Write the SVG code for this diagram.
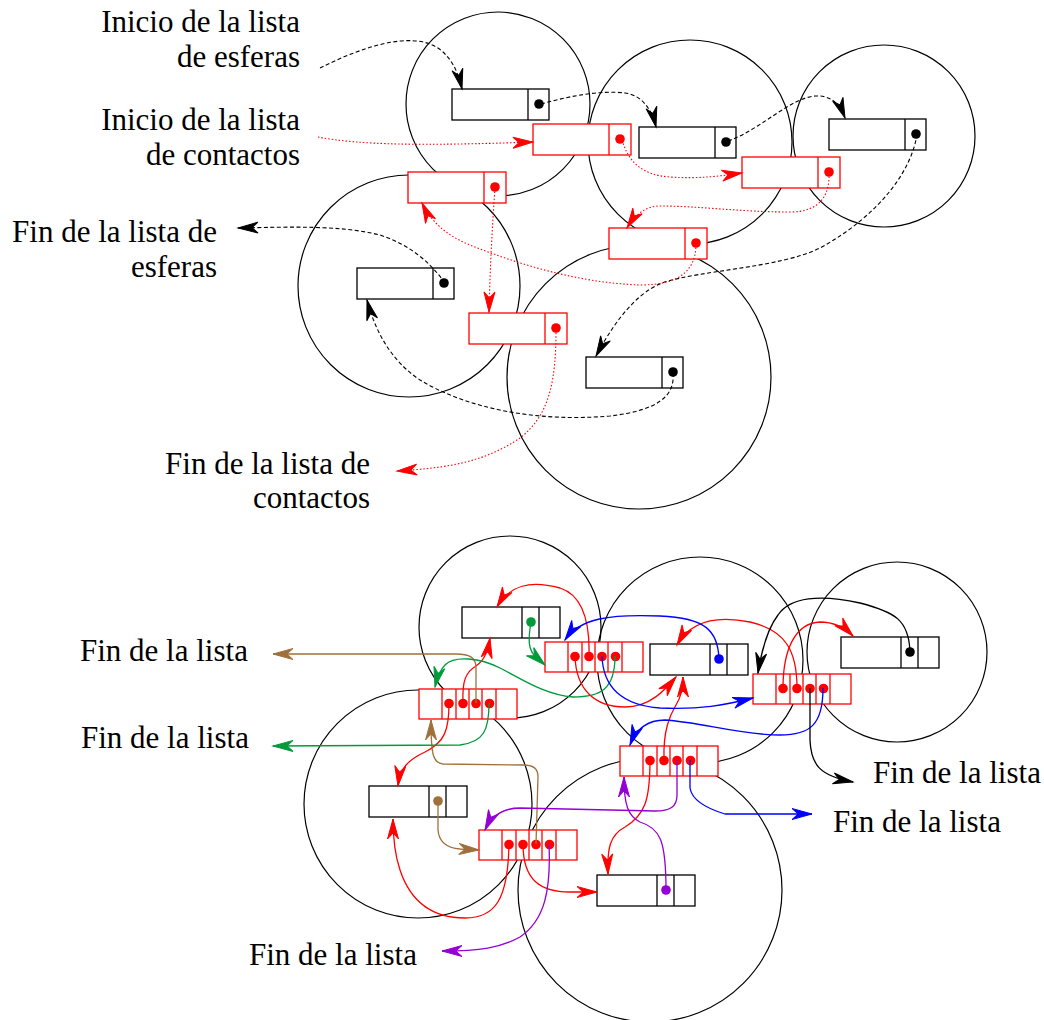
<svg xmlns="http://www.w3.org/2000/svg" xmlns:xlink="http://www.w3.org/1999/xlink" width="1044" height="1020" viewBox="0 0 1044 1020">
<style>
.circ{fill:none;stroke:#000;stroke-width:1.2}
.kb{fill:#fff;stroke:#000;stroke-width:1.3}
.rb{fill:#fff;stroke:#f00;stroke-width:1.3}
.c{fill:none;stroke-width:1.3}
.dk{fill:none;stroke:#000;stroke-width:1.1;stroke-dasharray:4 2.5}
.dr{fill:none;stroke:#f00;stroke-width:1.1;stroke-dasharray:1.5 2}
.lbl{font-family:"Liberation Serif","Times New Roman",serif;font-size:31px;fill:#000}
.ah{stroke-width:1;stroke-linejoin:miter}
</style>
<defs>
<marker id="ak" markerUnits="userSpaceOnUse" markerWidth="24" markerHeight="14" refX="20" refY="5.5" orient="auto" overflow="visible"><path class="ah" d="M0,0 L20,5.5 L0,11 L6,5.5 z" fill="#000" stroke="#000"/></marker>
<marker id="ar" markerUnits="userSpaceOnUse" markerWidth="24" markerHeight="14" refX="20" refY="5.5" orient="auto" overflow="visible"><path class="ah" d="M0,0 L20,5.5 L0,11 L6,5.5 z" fill="#f00" stroke="#f00"/></marker>
<marker id="ag" markerUnits="userSpaceOnUse" markerWidth="24" markerHeight="14" refX="20" refY="5.5" orient="auto" overflow="visible"><path class="ah" d="M0,0 L20,5.5 L0,11 L6,5.5 z" fill="#009a3a" stroke="#009a3a"/></marker>
<marker id="ab" markerUnits="userSpaceOnUse" markerWidth="24" markerHeight="14" refX="20" refY="5.5" orient="auto" overflow="visible"><path class="ah" d="M0,0 L20,5.5 L0,11 L6,5.5 z" fill="#00f" stroke="#00f"/></marker>
<marker id="an" markerUnits="userSpaceOnUse" markerWidth="24" markerHeight="14" refX="20" refY="5.5" orient="auto" overflow="visible"><path class="ah" d="M0,0 L20,5.5 L0,11 L6,5.5 z" fill="#a0703c" stroke="#a0703c"/></marker>
<marker id="ap" markerUnits="userSpaceOnUse" markerWidth="24" markerHeight="14" refX="20" refY="5.5" orient="auto" overflow="visible"><path class="ah" d="M0,0 L20,5.5 L0,11 L6,5.5 z" fill="#9400d3" stroke="#9400d3"/></marker>
<g id="tk"><rect class="kb" x="0" y="0" width="97" height="31"/><line class="kb" x1="76" y1="0" x2="76" y2="31"/><circle cx="87" cy="15" r="4.8" fill="#000"/></g>
<g id="tr"><rect class="rb" x="0" y="0" width="98" height="31"/><line class="rb" x1="76" y1="0" x2="76" y2="31"/><circle cx="87" cy="15" r="4.8" fill="#f00"/></g>
<g id="bk"><rect class="kb" x="0" y="0" width="98" height="31"/><line class="kb" x1="60" y1="0" x2="60" y2="31"/><line class="kb" x1="77" y1="0" x2="77" y2="31"/></g>
<g id="br"><rect class="rb" x="0" y="0" width="98" height="30"/><line class="rb" x1="23" y1="0" x2="23" y2="30"/><line class="rb" x1="37" y1="0" x2="37" y2="30"/><line class="rb" x1="50" y1="0" x2="50" y2="30"/><line class="rb" x1="63" y1="0" x2="63" y2="30"/><line class="rb" x1="77" y1="0" x2="77" y2="30"/><circle cx="30" cy="14.5" r="4.8" fill="#f00"/><circle cx="44" cy="14.5" r="4.8" fill="#f00"/><circle cx="57" cy="14.5" r="4.8" fill="#f00"/><circle cx="70.5" cy="14.5" r="4.8" fill="#f00"/></g>
</defs>
<rect width="1044" height="1020" fill="#fff"/>
<g id="spheres">
<circle class="circ" cx="498" cy="104" r="92"/>
<circle class="circ" cx="690" cy="142" r="102"/>
<circle class="circ" cx="884" cy="136" r="91"/>
<circle class="circ" cx="409" cy="286" r="111"/>
<circle class="circ" cx="639" cy="377" r="132"/>
<circle class="circ" cx="510" cy="627" r="91"/>
<circle class="circ" cx="700" cy="660" r="103"/>
<circle class="circ" cx="897" cy="652" r="90"/>
<circle class="circ" cx="418" cy="804" r="114"/>
<circle class="circ" cx="650" cy="890" r="132"/>
</g>
<g id="B1"><use xlink:href="#tk" x="452" y="89"/></g>
<g id="B2"><use xlink:href="#tk" x="639" y="127"/></g>
<g id="B3"><use xlink:href="#tk" x="829" y="119"/></g>
<g id="B4"><use xlink:href="#tk" x="357" y="268"/></g>
<g id="B5"><use xlink:href="#tk" x="586" y="357"/></g>
<g id="R1"><use xlink:href="#tr" x="533" y="124"/></g>
<g id="R2"><use xlink:href="#tr" x="408" y="172"/></g>
<g id="R3"><use xlink:href="#tr" x="742" y="157"/></g>
<g id="R4"><use xlink:href="#tr" x="609" y="228"/></g>
<g id="R5"><use xlink:href="#tr" x="469" y="313"/></g>
<g id="BB1"><use xlink:href="#bk" x="462" y="607"/><circle cx="531" cy="622" r="4.8" fill="#009a3a"/></g>
<g id="BB2"><use xlink:href="#bk" x="650" y="644"/><circle cx="719" cy="659" r="4.8" fill="#00f"/></g>
<g id="BB3"><use xlink:href="#bk" x="841" y="637"/><circle cx="910" cy="652" r="4.8" fill="#000"/></g>
<g id="BB4"><use xlink:href="#bk" x="369" y="786"/><circle cx="438" cy="801" r="4.8" fill="#a0703c"/></g>
<g id="BB5"><use xlink:href="#bk" x="597" y="875"/><circle cx="666" cy="890" r="4.8" fill="#9400d3"/></g>
<g id="BR1"><use xlink:href="#br" x="419" y="689"/></g>
<g id="BR2"><use xlink:href="#br" x="545" y="642"/></g>
<g id="BR3"><use xlink:href="#br" x="753" y="674"/></g>
<g id="BR4"><use xlink:href="#br" x="620" y="746"/></g>
<g id="BR5"><use xlink:href="#br" x="479" y="830"/></g>
<g id="connectors">
<path class="dk" marker-end="url(#ak)" d="M320,68 C360,48 410,30 438,48 C452,58 458,72 462,89"/>
<path class="dk" marker-end="url(#ak)" d="M541,104 C570,96 600,90 625,93 C642,95 652,110 656,127"/>
<path class="dk" marker-end="url(#ak)" d="M728,141 C760,130 790,98 815,96 C832,95 840,105 845,118"/>
<path class="dk" marker-end="url(#ak)" d="M917,134 C912,170 880,215 820,248 C780,268 700,270 662,283 C632,295 610,330 596,356"/>
<path class="dk" marker-end="url(#ak)" d="M673,373 C675,395 660,410 610,416 C540,422 470,410 420,380 C390,360 375,330 367,300"/>
<path class="dk" marker-end="url(#ak)" d="M445,283 C430,262 410,245 380,235 C340,225 290,227 238,228"/>
<path class="dr" marker-end="url(#ar)" d="M318,137 C360,145 420,146 533,142"/>
<path class="dr" marker-end="url(#ar)" d="M622,140 C628,160 640,175 670,177 C700,179 720,176 742,173"/>
<path class="dr" marker-end="url(#ar)" d="M829,173 C830,195 820,212 790,212 C740,212 700,206 660,206 C645,206 635,215 627,228"/>
<path class="dr" marker-end="url(#ar)" d="M696,244 C696,270 680,285 640,285 C580,283 520,265 470,245 C445,235 430,220 422,203"/>
<path class="dr" marker-end="url(#ar)" d="M495,188 C492,230 490,270 489,312"/>
<path class="dr" marker-end="url(#ar)" d="M556,329 C556,380 550,415 520,438 C480,465 440,468 397,471"/>
<path class="c" stroke="#f00" marker-end="url(#ar)" d="M449,703 C449,730 445,742 425,752 C408,760 400,768 398,786"/>
<path class="c" stroke="#f00" marker-end="url(#ar)" d="M463,703 C462,680 466,672 476,666 C485,660 488,650 490,638"/>
<path class="c" stroke="#f00" marker-end="url(#ar)" d="M575,656 C576,690 595,707 625,707 C650,707 665,690 676,677"/>
<path class="c" stroke="#f00" marker-end="url(#ar)" d="M589,656 C590,620 582,595 560,588 C530,580 510,585 497,607"/>
<path class="c" stroke="#f00" marker-end="url(#ar)" d="M783,688 C783,650 795,623 820,622 C835,622 845,628 853,636"/>
<path class="c" stroke="#f00" marker-end="url(#ar)" d="M797,688 C797,650 785,630 750,622 C715,615 690,622 677,645"/>
<path class="c" stroke="#f00" marker-end="url(#ar)" d="M650,760 C650,800 645,815 625,827 C610,835 607,848 608,874"/>
<path class="c" stroke="#f00" marker-end="url(#ar)" d="M664,760 C663,730 670,715 676,705 C681,697 683,690 683,677"/>
<path class="c" stroke="#f00" marker-end="url(#ar)" d="M509,844 C508,900 495,918 465,918 C430,918 410,900 400,870 C395,855 393,840 393,819"/>
<path class="c" stroke="#f00" marker-end="url(#ar)" d="M523,844 C523,880 540,892 570,892 L597,892"/>
<path class="c" stroke="#a0703c" marker-end="url(#an)" d="M476,703 L476,668 C476,657 469,654 456,654 L273,654"/>
<path class="c" stroke="#a0703c" marker-end="url(#an)" d="M536,844 L538,777 C538,768 533,765 523,765 L443,764 C433,763 431,755 431,720"/>
<path class="c" stroke="#a0703c" marker-end="url(#an)" d="M438,801 L438,830 C439,843 447,848 460,849 L479,850"/>
<path class="c" stroke="#009a3a" marker-end="url(#ag)" d="M489,703 C489,730 484,742 460,745 L273,746"/>
<path class="c" stroke="#009a3a" marker-end="url(#ag)" d="M615,656 C615,690 600,697 573,697 C545,695 520,678 500,668 C480,658 455,655 445,665 C440,670 437,678 435,687"/>
<path class="c" stroke="#009a3a" marker-end="url(#ag)" d="M531,622 C528,640 528,650 536,657 L545,665"/>
<path class="c" stroke="#00f" marker-end="url(#ab)" d="M602,656 C603,685 620,705 660,708 C700,710 725,705 753,698"/>
<path class="c" stroke="#00f" marker-end="url(#ab)" d="M719,659 C718,630 705,618 660,616 C610,614 580,618 565,640"/>
<path class="c" stroke="#00f" marker-end="url(#ab)" d="M823,688 C823,725 810,735 780,735 C740,735 700,722 665,720 C645,720 635,732 630,745"/>
<path class="c" stroke="#00f" marker-end="url(#ab)" d="M690,760 L690,788 C692,800 705,808 725,814 L812,814"/>
<path class="c" stroke="#000" marker-end="url(#ak)" d="M810,688 L810,740 C811,765 820,776 853,782"/>
<path class="c" stroke="#000" marker-end="url(#ak)" d="M910,652 C909,620 895,612 860,603 C820,594 790,597 778,615 C768,628 762,648 758,673"/>
<path class="c" stroke="#9400d3" marker-end="url(#ap)" d="M677,760 L677,795 C677,807 670,811 655,811 L520,808 C503,808 492,815 485,830"/>
<path class="c" stroke="#9400d3" marker-end="url(#ap)" d="M549,844 C551,890 545,920 520,937 C500,948 480,951 442,951"/>
<path class="c" stroke="#9400d3" marker-end="url(#ap)" d="M666,890 C666,840 660,828 640,822 C628,816 624,805 624,777"/>
</g>
<g id="labels">
<text class="lbl" x="300" y="32" text-anchor="end">Inicio de la lista</text>
<text class="lbl" x="300" y="67" text-anchor="end">de esferas</text>
<text class="lbl" x="300" y="130" text-anchor="end">Inicio de la lista</text>
<text class="lbl" x="300" y="165" text-anchor="end">de contactos</text>
<text class="lbl" x="217" y="242" text-anchor="end">Fin de la lista de</text>
<text class="lbl" x="217" y="277" text-anchor="end">esferas</text>
<text class="lbl" x="370" y="474" text-anchor="end">Fin de la lista de</text>
<text class="lbl" x="370" y="508" text-anchor="end">contactos</text>
<text class="lbl" x="80" y="661">Fin de la lista</text>
<text class="lbl" x="81" y="748">Fin de la lista</text>
<text class="lbl" x="873" y="783">Fin de la lista</text>
<text class="lbl" x="833" y="832">Fin de la lista</text>
<text class="lbl" x="249" y="965">Fin de la lista</text>
</g>
</svg>
